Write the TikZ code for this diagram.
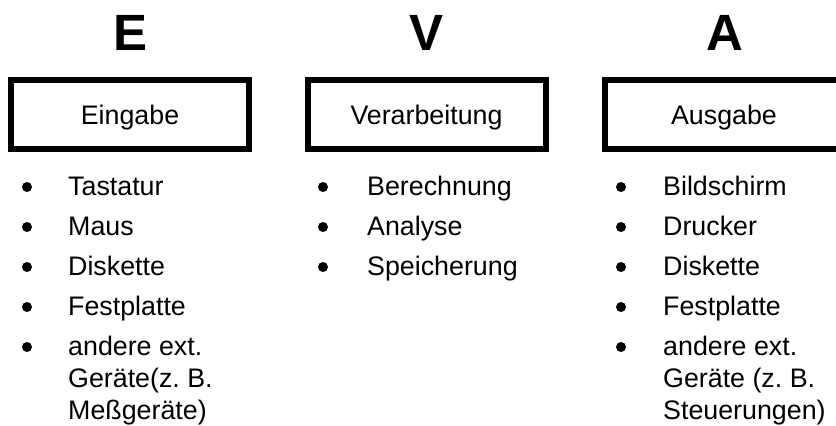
\documentclass[tikz,border=0pt]{standalone}
\usepackage{fontspec}
\setmainfont{Liberation Sans}
\usepackage{tikz}
\usetikzlibrary{shapes,positioning,calc}

\tikzset{
    phase/.style={draw, line width=6pt, minimum width=238pt, minimum height=69pt,
        text height=20pt, text depth=0pt, font=\fontsize{26.8}{32}\selectfont},
    letter/.style={anchor=base, font=\fontsize{51}{60}\selectfont\bfseries},
    dot/.style={circle, fill, inner sep=0pt, minimum size=10pt},
    entry/.style={anchor=base west, align=left, inner sep=0pt, font=\fontsize{26.8}{32}\selectfont}
}

\begin{document}
\begin{tikzpicture}[x=1pt,y=-1pt]
        \useasboundingbox (0,0) rectangle (836,426);
        \clip (0,0) rectangle (836,426);

        % Headings
        \node[letter] (E) at (131,50) {E};
        \node[letter] (V) at (427,50) {V};
        \node[letter] (A) at (725,50) {A};

        % Boxes
        \node[phase] (ein) at (130,114.5) {Eingabe};
        \node[phase] (ver) at (426.5,114.5) {Verarbeitung};
        \node[phase] (aus) at (724,114.5) {Ausgabe};

        % Eingabe list
        \foreach \t [count=\i] in {Tastatur, Maus, Diskette, Festplatte} {
            \node[dot] (ed\i) at (27,{147+40*\i}) {};
            \node[entry] (et\i) at (68,{155+40*\i}) {\t};
        }
        \node[dot] (ed5) at (27,347) {};
        \node[entry] (et5) at (68,419) {andere ext.\\Geräte(z.~B.\\Meßgeräte)};

        % Verarbeitung list
        \foreach \t [count=\i] in {Berechnung, Analyse, Speicherung} {
            \node[dot] (vd\i) at (323,{147+40*\i}) {};
            \node[entry] (vt\i) at (367,{155+40*\i}) {\t};
        }

        % Ausgabe list
        \foreach \t [count=\i] in {Bildschirm, Drucker, Diskette, Festplatte} {
            \node[dot] (ad\i) at (621,{147+40*\i}) {};
            \node[entry] (at\i) at (663,{155+40*\i}) {\t};
        }
        \node[dot] (ad5) at (621,347) {};
        \node[entry] (at5) at (663,419) {andere ext.\\Geräte (z.~B.\\Steuerungen)};
    \end{tikzpicture}
\end{document}
